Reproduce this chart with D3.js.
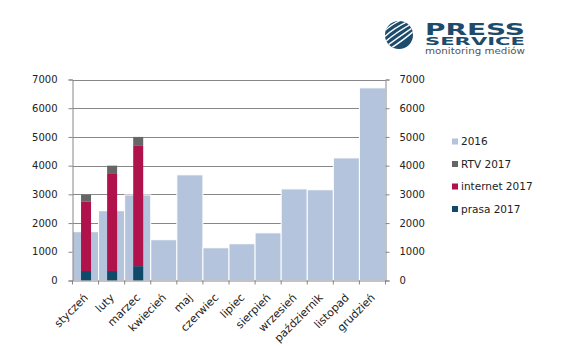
<!DOCTYPE html>
<html><head><meta charset="utf-8">
<script src="https://cdn.jsdelivr.net/npm/d3@7"></script>
<style>body{margin:0;background:#fff}svg{display:block}</style>
</head><body>
<svg id="c" width="573" height="346"></svg>
<script>
const months = ["styczeń","luty","marzec","kwiecień","maj","czerwiec","lipiec","sierpień","wrzesień","październik","listopad","grudzień"];
const v2016 = [1700,2430,2980,1420,3680,1140,1280,1660,3190,3160,4270,6710];
const prasa2017 = [330,330,500];
const internet2017 = [2410,3380,4210];
const rtv2017 = [250,290,290];
const yTicks = [0,1000,2000,3000,4000,5000,6000,7000];
const legendItems = [["2016","#b4c4dc"],["RTV 2017","#666666"],["internet 2017","#b0134c"],["prasa 2017","#0f4a68"]];

const svg = d3.select("#c");
const L = 72.5, R = 385.5, B = 280.5, T = 79.5;
const x = d3.scaleBand().domain(months).range([L, R]).padding(0);
const y = d3.scaleLinear().domain([0,7000]).range([B, T]);
const font = "DejaVu Sans, Verdana, sans-serif";
const grey = "#878787";

// gridlines
svg.append("g").selectAll("line").data(yTicks.filter(d=>d>0)).join("line")
  .attr("x1", L).attr("x2", R).attr("y1", d=>Math.round(y(d))+0.5).attr("y2", d=>Math.round(y(d))+0.5)
  .attr("stroke", grey).attr("stroke-width", 1);

// 2016 bars
svg.append("g").selectAll("rect").data(v2016).join("rect")
  .attr("x", (d,i)=>x(months[i])).attr("width", x.bandwidth())
  .attr("y", d=>y(d)).attr("height", d=>B - y(d))
  .attr("fill", "#b4c4dc").attr("stroke", "#fff").attr("stroke-width", 1);

// 2017 stacked bars
const stackData = prasa2017.map((p,i)=>({m: months[i], prasa: p, internet: internet2017[i], rtv: rtv2017[i]}));
const stack = d3.stack().keys(["prasa","internet","rtv"])(stackData);
const colors = {prasa:"#0f4a68", internet:"#b0134c", rtv:"#666666"};
const bw = 10;
svg.append("g").selectAll("g").data(stack).join("g")
  .attr("fill", d=>colors[d.key])
  .selectAll("rect").data(d=>d).join("rect")
  .attr("x", d=>x(d.data.m) + x.bandwidth()/2 - bw/2 + 0.5).attr("width", bw)
  .attr("y", d=>y(d[1])).attr("height", d=>y(d[0]) - y(d[1]));

// axes
const axL = svg.append("g").attr("transform", `translate(${L},0)`)
  .call(d3.axisLeft(y).tickValues(yTicks).tickSize(4).tickPadding(11).tickFormat(d3.format("d")));
const axR = svg.append("g").attr("transform", `translate(${R},0)`)
  .call(d3.axisRight(y).tickValues(yTicks).tickSize(4).tickPadding(10).tickFormat(d3.format("d")));
const axB = svg.append("g").attr("transform", `translate(0,${B})`)
  .call(d3.axisBottom(x).tickSize(0).tickFormat(""));
// category boundary ticks
svg.append("g").selectAll("line").data(months.concat(["_end"])).join("line")
  .attr("x1", (d,i)=> i<12 ? x(d) : R).attr("x2", (d,i)=> i<12 ? x(d) : R)
  .attr("y1", B).attr("y2", B+4).attr("stroke", grey);
[axL, axR, axB].forEach(a=>{
  a.selectAll("path").attr("stroke", grey).attr("stroke-width",1);
  a.selectAll("line").attr("stroke", grey);
  a.selectAll("text").attr("font-family", font).attr("font-size", 10).attr("fill", "#222");
});
// x labels rotated
svg.append("g").selectAll("text").data(months).join("text")
  .attr("transform", d=>`translate(${x(d)+x.bandwidth()/2+0.5},${B+15}) rotate(-45)`)
  .attr("text-anchor", "end").attr("dy", "0.35em")
  .attr("font-family", font).attr("font-size", 11).attr("fill", "#222")
  .text(d=>d);

// legend
const lg = svg.append("g").selectAll("g").data(legendItems).join("g")
  .attr("transform", (d,i)=>`translate(452,${141.5 + i*22.5})`);
lg.append("rect").attr("x",0).attr("y",-3).attr("width",6).attr("height",6).attr("fill", d=>d[1]);
lg.append("text").attr("x", 9).attr("dy","0.35em").attr("font-family", font).attr("font-size", 10.5).attr("fill","#222").text(d=>d[0]);

// logo
const logo = svg.append("g");
const cx = 399, cy = 35, r = 14;
logo.append("clipPath").attr("id","lc").append("circle").attr("cx",cx).attr("cy",cy).attr("r",r);
logo.append("circle").attr("cx",cx).attr("cy",cy).attr("r",r).attr("fill","#1d4b6b");
const sg = logo.append("g").attr("clip-path","url(#lc)");
[-9,-5,-1,3,7].forEach(o=>{
  sg.append("path")
    .attr("d", `M${cx-16+o*0.3},${cy+10+o} Q${cx-2+o},${cy-2+o} ${cx+16},${cy-12+o}`)
    .attr("fill","none").attr("stroke","#fff").attr("stroke-width",1.4);
});
logo.append("text").attr("x",425).attr("y",35).attr("font-family","DejaVu Sans, sans-serif").attr("font-weight","bold")
  .attr("font-size",15).attr("fill","#1d4b6b").attr("textLength",100).attr("lengthAdjust","spacingAndGlyphs").text("PRESS");
logo.append("text").attr("x",425).attr("y",45).attr("font-family","DejaVu Sans, sans-serif").attr("font-weight","bold")
  .attr("font-size",11).attr("fill","#1d4b6b").attr("textLength",100).attr("lengthAdjust","spacingAndGlyphs").text("SERVICE");
logo.append("text").attr("x",425).attr("y",53.5).attr("font-family","DejaVu Sans, sans-serif")
  .attr("font-size",8.5).attr("fill","#555").attr("textLength",100).attr("lengthAdjust","spacingAndGlyphs").text("monitoring mediów");
</script>
</body></html>
